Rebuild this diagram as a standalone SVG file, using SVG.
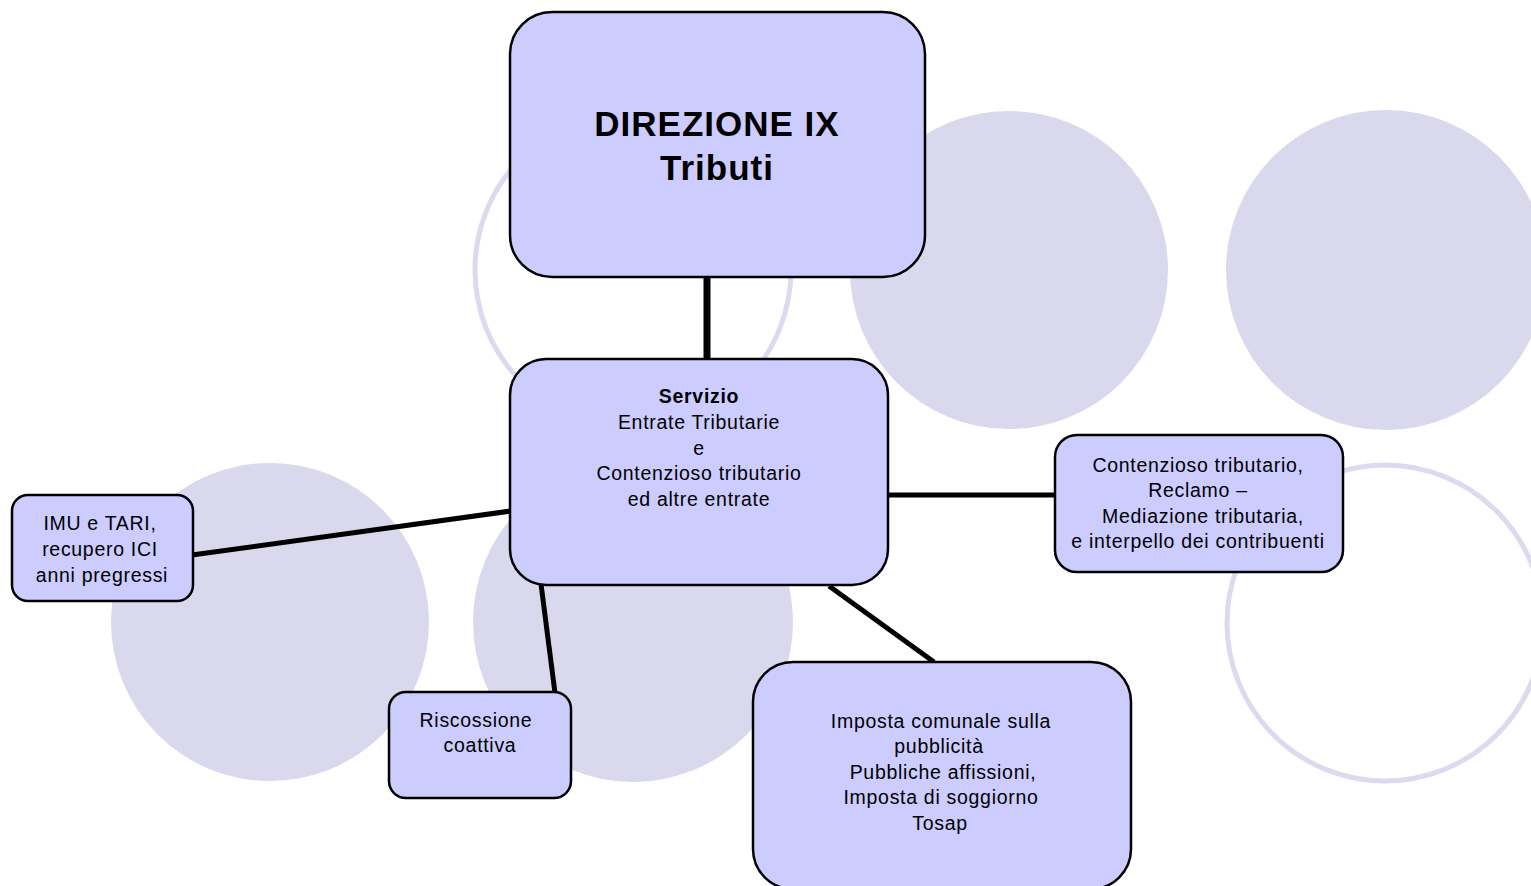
<svg xmlns="http://www.w3.org/2000/svg" width="1531" height="886" viewBox="0 0 1531 886">
  <style>
    .disc { fill: #d9d8ec; }
    .ring { fill: none; stroke: #dcdaee; stroke-width: 5; }
    .box { fill: #ccccff; stroke: #000; stroke-width: 2.5; }
    .link { stroke: #000; stroke-width: 5; fill: none; }
    text { font-family: "Liberation Sans", Arial, sans-serif; fill: #000; text-anchor: middle; }
    .body { font-size: 19.5px; letter-spacing: 0.7px; }
    .title { font-size: 35px; font-weight: bold; letter-spacing: 1px; }
    .bold { font-weight: bold; }
  </style>

  <!-- decorative background circles -->
  <g id="background">
    <circle class="ring" cx="633" cy="270" r="158"/>
    <circle class="disc" cx="1009" cy="270" r="159"/>
    <circle class="disc" cx="1386" cy="270" r="160"/>
    <circle class="disc" cx="270" cy="622" r="159"/>
    <circle class="disc" cx="633" cy="622" r="160"/>
    <circle class="ring" cx="1385" cy="623" r="158"/>
  </g>

  <!-- connectors -->
  <g id="connectors">
    <line class="link" x1="707" y1="270" x2="707" y2="360" style="stroke-width:7"/>
    <line class="link" x1="511" y1="511" x2="192" y2="555"/>
    <line class="link" x1="887" y1="495" x2="1056" y2="495"/>
    <line class="link" x1="541" y1="584" x2="555" y2="693"/>
    <line class="link" x1="829" y1="586" x2="934" y2="662"/>
  </g>

  <g id="direzione">
    <rect class="box" x="510" y="12" width="415" height="265" rx="42" ry="42"/>
    <text class="title" x="717" y="136">DIREZIONE IX</text>
    <text class="title" x="717" y="180">Tributi</text>
  </g>

  <g id="servizio">
    <rect class="box" x="510" y="359" width="378" height="226" rx="36" ry="36"/>
    <text class="body bold" x="699" y="403">Servizio</text>
    <text class="body" x="699" y="429">Entrate Tributarie</text>
    <text class="body" x="699" y="455">e</text>
    <text class="body" x="699" y="480">Contenzioso tributario</text>
    <text class="body" x="699" y="506">ed altre entrate</text>
  </g>

  <g id="imu-tari">
    <rect class="box" x="12" y="495" width="181" height="106" rx="16" ry="16"/>
    <text class="body" x="100" y="530">IMU e TARI,</text>
    <text class="body" x="100" y="556">recupero ICI</text>
    <text class="body" x="102" y="582">anni pregressi</text>
  </g>

  <g id="contenzioso">
    <rect class="box" x="1055" y="435" width="288" height="137" rx="22" ry="22"/>
    <text class="body" x="1198" y="472">Contenzioso tributario,</text>
    <text class="body" x="1198" y="497">Reclamo –</text>
    <text class="body" x="1203" y="523">Mediazione tributaria,</text>
    <text class="body" x="1198" y="548">e interpello dei contribuenti</text>
  </g>

  <g id="riscossione">
    <rect class="box" x="389" y="692" width="182" height="106" rx="17" ry="17"/>
    <text class="body" x="476" y="727">Riscossione</text>
    <text class="body" x="480" y="752">coattiva</text>
  </g>

  <g id="imposte">
    <rect class="box" x="753" y="662" width="378" height="227" rx="40" ry="40"/>
    <text class="body" x="941" y="728">Imposta comunale sulla</text>
    <text class="body" x="939" y="753">pubblicità</text>
    <text class="body" x="943" y="779">Pubbliche affissioni,</text>
    <text class="body" x="941" y="804">Imposta di soggiorno</text>
    <text class="body" x="940" y="830">Tosap</text>
  </g>
</svg>
